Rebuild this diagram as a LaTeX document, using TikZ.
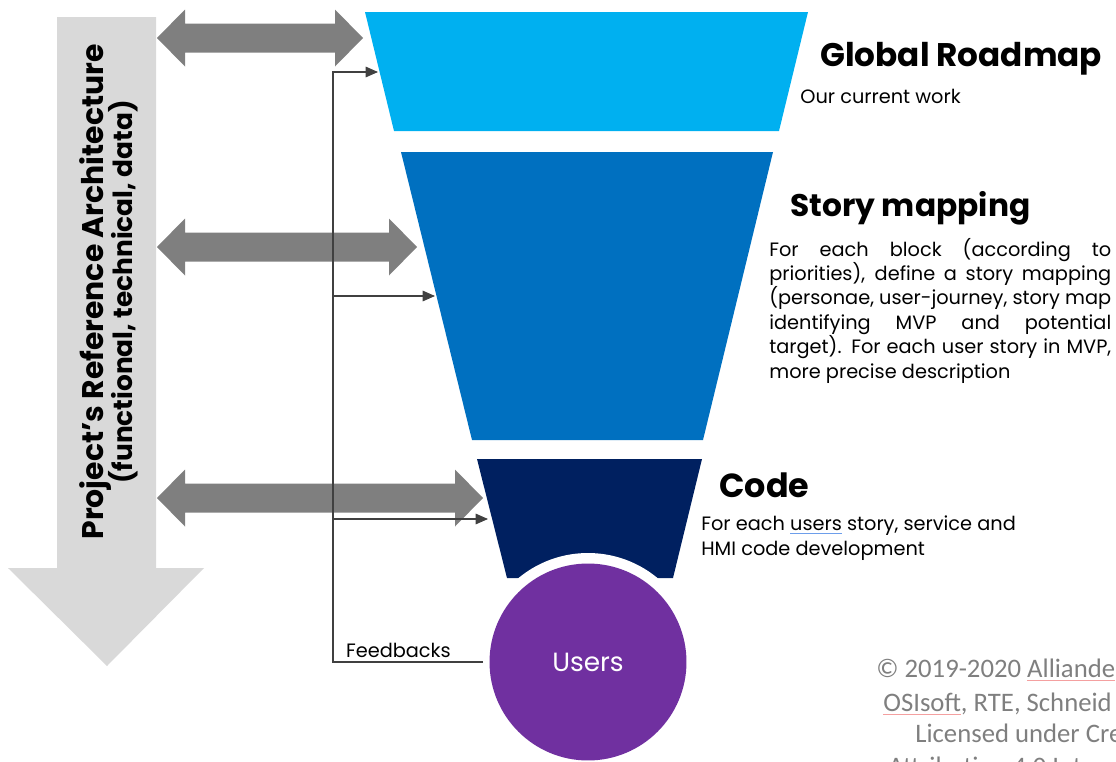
\documentclass[tikz,border=0pt]{standalone}
\usepackage{fontspec}
\setmainfont{Poppins}
\newfontfamily\carlito{Carlito}
\usetikzlibrary{arrows.meta}
\definecolor{ciel}{HTML}{00B0F0}
\definecolor{bleu}{HTML}{0070C0}
\definecolor{marine}{HTML}{002060}
\definecolor{violet}{HTML}{7030A0}
\definecolor{grisclair}{HTML}{D9D9D9}
\definecolor{grisfonce}{HTML}{7F7F7F}
\definecolor{trait}{HTML}{404040}
\definecolor{souligne}{HTML}{6D9EEB}
\definecolor{faute}{HTML}{F4A0A0}
\newcommand\souligner[2]{\leavevmode\setbox0\hbox{#2}\rlap{\color{#1}\rule[-2.4pt]{\wd0}{0.5pt}}\box0\relax}

\begin{document}
\begin{tikzpicture}[x=0.02cm,y=-0.02cm, % coordonnees en pixels
	fleche/.style={fill=grisfonce},
	retour/.style={draw=trait, line width=0.6pt},
	pointe/.style={-{Triangle[length=7pt,width=6pt]}},
	titre/.style={anchor=base west, inner sep=0, font=\bfseries\fontsize{18.6}{22}\selectfont},
	texte/.style={anchor=base west, inner sep=0, font=\fontsize{11}{13.9}\selectfont},
	legal/.style={anchor=base west, inner sep=0, text=grisfonce, font=\carlito\fontsize{15.2}{18}\selectfont}]
	\useasboundingbox (0,0) rectangle (1116,761);
	% la grande fleche a gauche
	\fill[grisclair] (57,17) -- (156,17) -- (156,568) -- (204,568) -- (107,666) -- (8,568) -- (57,568) -- cycle;
	\node[rotate=90, align=center, inner sep=0, font=\bfseries] (archi) at (109,292)
		{{\fontsize{17}{20}\selectfont Project’s Reference Architecture}\\[-3pt]
		 {\fontsize{15}{17}\selectfont (functional, technical, data)}};
	% les trois niveaux
	\fill[ciel] (365,12) -- (808,12) -- (779,131) -- (394,131) -- cycle;
	\fill[bleu] (401,152) -- (773,152) -- (703,440) -- (472,440) -- cycle;
	\fill[marine] (477,459) -- (702,459) -- (673,578) -- (507,578) -- cycle;
	\fill[white] (588,662) circle (109);
	\node[circle, fill=violet, minimum size=3.94cm, inner sep=0, text=white,
		font=\fontsize{15}{18}\selectfont] (users) at (588,662) {Users};
	% fleches doubles
	\foreach \y/\xr in {38/363, 247/417, 498/483}{
		\fill[fleche] (157,\y) -- (185,{\y-28.5}) -- (185,{\y-14.5}) -- ({\xr-28},{\y-14.5})
			-- ({\xr-28},{\y-28.5}) -- (\xr,\y) -- ({\xr-28},{\y+28.5}) -- ({\xr-28},{\y+14.5})
			-- (185,{\y+14.5}) -- (185,{\y+28.5}) -- cycle;}
	% boucle de retour
	\coordinate (fb) at (333,662);
	\coordinate (cible1) at (378,72);
	\coordinate (cible2) at (435,296);
	\coordinate (cible3) at (488,519);
	\draw[retour, pointe] ([xshift=-0.12cm]users.west) -- (fb) node[pos=0.94, above right, inner sep=2pt,
		font=\fontsize{11}{12}\selectfont] (feed) {Feedbacks} |- (cible1);
	\draw[retour, pointe] (fb |- cible2) -- (cible2);
	\draw[retour, pointe] (fb |- cible3) -- (cible3);
	% textes
	\node[titre] (roadmap) at (820,66) {Global Roadmap};
	\node[texte] (roadmaptxt) at (800,103) {Our current work};
	\node[titre, font=\bfseries\fontsize{17.8}{22}\selectfont] (story) at (790,216) {Story mapping};
	\node[texte, text width=6.84cm, align=justify] (storytxt) at (769,256)
		{\hyphenpenalty=10000\relax For each block (according to\linebreak priorities), define a story mapping\linebreak (personae, user-journey, story map\linebreak identifying MVP and potential\linebreak target). For each user story in MVP,\linebreak more precise description};
	\node[titre, font=\bfseries\fontsize{19}{22}\selectfont] (code) at (719,497) {Code};
	\node[texte, font=\fontsize{11}{14.2}\selectfont, align=left] (codetxt) at (701,555)
		{For each \souligner{souligne}{users} story, service and\\HMI code development};
	% mentions
	\begin{scope}
		\clip (0,0) rectangle (1116,761);
		\node[legal] (l1) at (876,677) {© 2019-2020 \souligner{faute}{Alliande}};
		\node[legal] (l2) at (883,711) {\souligner{faute}{OSIsoft}, RTE, Schneid};
		\node[legal] (l3) at (915,742) {Licensed under Cre};
		\node[legal] (l4) at (888,775) {Attribution 4.0 Int};
	\end{scope}
\end{tikzpicture}
\end{document}
